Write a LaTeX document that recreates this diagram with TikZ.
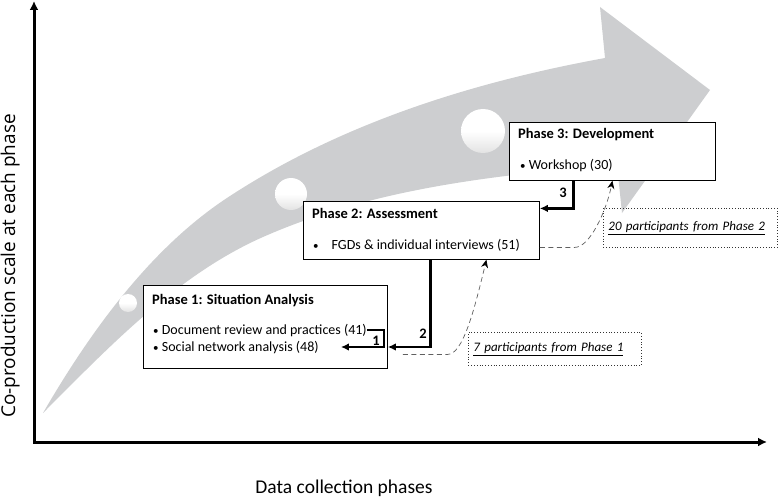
\documentclass[tikz,border=0pt]{standalone}
\usepackage{fontspec}
\setmainfont{Carlito}
\newfontfamily\axisfont{Open Sans}
\usepackage{tikz}
\usetikzlibrary{positioning,arrows.meta,calc}
\definecolor{bandgrey}{RGB}{205,206,208}
\newcommand\bul{{\fontsize{11}{11}\selectfont •}}

\begin{document}
\begin{tikzpicture}
	[x=1pt,y=-1pt,
	box/.style={draw=black,fill=white,line width=0.8pt,inner sep=0pt,anchor=north west},
	txt/.style={inner sep=0pt,anchor=base west,font=\fontsize{14}{17}\selectfont},
	ttl/.style={inner sep=0pt,anchor=base west,font=\fontsize{14.5}{17}\selectfont\bfseries},
	num/.style={inner sep=0pt,font=\fontsize{14.5}{17}\selectfont\bfseries},
	conn/.style={line width=2.4pt,-{Latex[length=8pt,width=7.5pt]}},
	axis/.style={line width=3pt,{Latex[length=9pt,width=9pt]}-{Latex[length=9pt,width=9pt]}},
	dsh/.style={draw=gray!75!black,dash pattern=on 5pt off 3.5pt,line width=0.7pt,-{Stealth[black,length=8pt,width=7pt]}},
	note/.style={draw=black!80,dotted,line width=0.8pt,anchor=north west,align=left,inner xsep=5pt,font=\fontsize{13}{16}\selectfont\itshape},
	ball/.style={circle,inner sep=0pt,top color=white,bottom color=gray!22,middle color=white}]
	\useasboundingbox (0,0) rectangle (778,497);
	%%%%% BAND
	\fill[bandgrey] (43,413) .. controls (90,332) and (151,247) .. (230,196)
	.. controls (342,123) and (473,82) .. (605,58) -- (600,7) -- (710,90) -- (622,213) -- (617,165)
	.. controls (493,175) and (372,189) .. (263,237)
	.. controls (177,275) and (109,347) .. cycle;
	\node[ball,minimum size=18] (b1) at (128,303) {};
	\node[ball,minimum size=32] (b2) at (291,194) {};
	\node[ball,minimum size=44] (b3) at (483,131) {};
	%%%%% AXES
	\coordinate (o) at (34,442);
	\coordinate (ytop) at (34,1);
	\coordinate (xend) at (767,442);
	\draw[axis] (ytop) -- (o) -- (xend);
	\node[font=\axisfont\fontsize{19}{22}\selectfont,rotate=90,anchor=base] (ylab) at (15,266) {Co-production scale at each phase};
	\node[font=\fontsize{19.5}{23}\selectfont,anchor=base] (xlab) at (344,493) {Data collection phases};
	%%%%% PHASE 1
	\node[box,minimum width=244,minimum height=83] (ph1) at (143,285) {};
	\node[ttl] (ph1t) at (152,304) {Phase 1: Situation Analysis};
	\node[txt] (docrev) at (153,334) {\bul\ Document review and practices (41)};
	\node[txt] (sna) at (153,351) {\bul\ Social network analysis (48)};
	%%%%% PHASE 2
	\node[box,minimum width=236,minimum height=58] (ph2) at (303,201) {};
	\node[ttl] (ph2t) at (312,218) {Phase 2: Assessment};
	\node[txt] (fgd) at (313,249) {\bul\hspace{13pt}FGDs \& individual interviews (51)};
	%%%%% PHASE 3
	\node[box,minimum width=206,minimum height=58] (ph3) at (509,122) {};
	\node[ttl] (ph3t) at (518,139) {Phase 3: Development};
	\node[txt] (wks) at (520,169) {\bul\ Workshop (30)};
	%%%%% STEPS
	\draw[conn] (docrev.east) -- ([xshift=-4]ph1.east |- docrev.east) |- ([xshift=22]sna.east);
	\node[num] (n1) at (376,341) {1};
	\draw[conn] ([xshift=9]ph2.south) |- (ph1.east |- sna.east);
	\node[num] (n2) at (423,334) {2};
	\draw[conn] ([xshift=-39]ph3.south) |- ([yshift=22]ph2.east);
	\node[num] (n3) at (563,193) {3};
	%%%%% PARTICIPANTS
	\node[note,minimum height=33,text width=163] (note1) at (468,332) {\underline{7 participants from Phase 1}};
	\node[note,minimum height=39,text width=164] (note2) at (603,208) {\underline{20 participants from Phase 2}};
	\draw[dsh] ([xshift=15,yshift=-27.5]ph1.east) -- ++(45,0) .. controls +(15,0) and +(-12,50) .. ([xshift=65]ph2.south);
	\draw[dsh] ([yshift=-17]ph2.east) -- ++(35,0) .. controls +(15,0) and +(-6,30) .. (ph3.south);
\end{tikzpicture}
\end{document}
